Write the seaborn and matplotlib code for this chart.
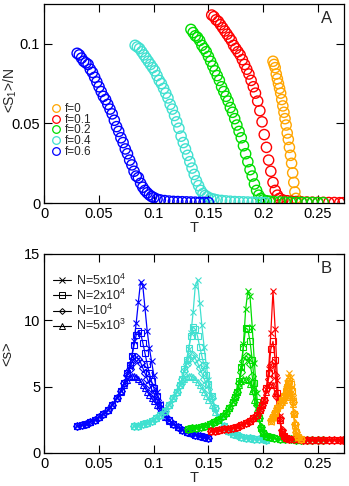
import matplotlib
matplotlib.use("Agg")
import matplotlib.pyplot as plt
from matplotlib.lines import Line2D
import seaborn as sns

# ---- panel A: <S1>/N vs T ----
f_labels = ["f=0", "f=0.1", "f=0.2", "f=0.4", "f=0.6"]
f_colors = ["#ffa500", "#ff0000", "#00dd00", "#40e0d0", "#0000ff"]

tA_f0 = [0.209, 0.210, 0.211, 0.212, 0.213, 0.214, 0.215, 0.216, 0.217, 0.218, 0.219,
         0.220, 0.221, 0.222, 0.223, 0.224, 0.225, 0.226, 0.227, 0.228, 0.229, 0.230]
sA_f0 = [0.089, 0.087, 0.085, 0.081, 0.078, 0.075, 0.072, 0.069, 0.065, 0.061, 0.057,
         0.053, 0.049, 0.044, 0.040, 0.035, 0.030, 0.025, 0.019, 0.013, 0.007, 0.003]

tA_f01 = [0.153, 0.155, 0.157, 0.159, 0.161, 0.163, 0.165, 0.167, 0.169, 0.171, 0.173,
          0.175, 0.177, 0.179, 0.181, 0.183, 0.185, 0.187, 0.189, 0.191, 0.193, 0.195,
          0.197, 0.199, 0.201, 0.203, 0.205, 0.207, 0.209, 0.211, 0.213, 0.215, 0.218,
          0.222, 0.226, 0.230, 0.235, 0.240, 0.245, 0.250, 0.255, 0.260, 0.265, 0.270, 0.273]
sA_f01 = [0.118, 0.117, 0.115, 0.114, 0.112, 0.110, 0.108, 0.106, 0.104, 0.102, 0.099,
          0.097, 0.095, 0.093, 0.090, 0.087, 0.084, 0.081, 0.077, 0.073, 0.069, 0.064,
          0.058, 0.051, 0.043, 0.035, 0.027, 0.020, 0.013, 0.008, 0.005, 0.003, 0.002,
          0.0015, 0.0012, 0.001, 0.0008, 0.0007, 0.0006, 0.0005, 0.0005, 0.0004, 0.0004, 0.0003, 0.0003]

tA_f02 = [0.134, 0.136, 0.138, 0.140, 0.142, 0.144, 0.146, 0.148, 0.150, 0.152, 0.154,
          0.156, 0.158, 0.160, 0.162, 0.164, 0.166, 0.168, 0.170, 0.172, 0.174, 0.176,
          0.178, 0.180, 0.182, 0.184, 0.186, 0.188, 0.190, 0.192, 0.194, 0.196, 0.198,
          0.200, 0.203, 0.206, 0.210, 0.215, 0.220, 0.225, 0.230, 0.235, 0.240, 0.245, 0.250, 0.255]
sA_f02 = [0.109, 0.107, 0.105, 0.104, 0.102, 0.099, 0.097, 0.095, 0.092, 0.089, 0.086,
          0.083, 0.080, 0.077, 0.073, 0.070, 0.067, 0.064, 0.060, 0.057, 0.053, 0.049,
          0.045, 0.041, 0.036, 0.031, 0.026, 0.021, 0.017, 0.012, 0.008, 0.005, 0.003,
          0.002, 0.0015, 0.0012, 0.001, 0.0008, 0.0007, 0.0006, 0.0005, 0.0005, 0.0004, 0.0004, 0.0003, 0.0003]

tA_f04 = [0.083, 0.085, 0.087, 0.089, 0.091, 0.093, 0.095, 0.097, 0.099, 0.101, 0.103,
          0.105, 0.107, 0.109, 0.111, 0.113, 0.115, 0.117, 0.119, 0.121, 0.123, 0.125,
          0.127, 0.129, 0.131, 0.133, 0.135, 0.137, 0.139, 0.141, 0.143, 0.145, 0.147,
          0.149, 0.152, 0.155, 0.158, 0.162, 0.166, 0.170, 0.174, 0.178, 0.182, 0.186,
          0.190, 0.194, 0.198, 0.202]
sA_f04 = [0.099, 0.098, 0.097, 0.095, 0.093, 0.091, 0.089, 0.087, 0.085, 0.083, 0.080,
          0.077, 0.075, 0.072, 0.069, 0.066, 0.062, 0.059, 0.055, 0.051, 0.047, 0.042,
          0.038, 0.034, 0.030, 0.026, 0.022, 0.018, 0.014, 0.011, 0.008, 0.006, 0.0048,
          0.004, 0.003, 0.0025, 0.002, 0.0017, 0.0014, 0.0012, 0.001, 0.0009, 0.0008, 0.0007,
          0.0006, 0.0005, 0.0005, 0.0004]

tA_f06 = [0.030, 0.032, 0.034, 0.036, 0.038, 0.040, 0.042, 0.044, 0.046, 0.048, 0.050,
          0.052, 0.054, 0.056, 0.058, 0.060, 0.062, 0.064, 0.066, 0.068, 0.070, 0.072,
          0.074, 0.076, 0.078, 0.080, 0.082, 0.084, 0.086, 0.088, 0.090, 0.092, 0.094,
          0.096, 0.098, 0.100, 0.103, 0.106, 0.110, 0.114, 0.118, 0.122, 0.126, 0.130,
          0.134, 0.138, 0.142, 0.146, 0.150]
sA_f06 = [0.094, 0.093, 0.091, 0.089, 0.088, 0.087, 0.084, 0.082, 0.079, 0.076, 0.073,
          0.070, 0.067, 0.065, 0.062, 0.059, 0.056, 0.052, 0.048, 0.045, 0.041, 0.038,
          0.034, 0.031, 0.027, 0.024, 0.020, 0.017, 0.016, 0.0125, 0.010, 0.008, 0.0065,
          0.0052, 0.0042, 0.0035, 0.0025, 0.002, 0.0016, 0.0013, 0.0011, 0.001, 0.0009, 0.0008,
          0.0007, 0.0006, 0.0005, 0.0005, 0.0004]

# ---- panel B: <s> vs T for four system sizes ----
n_labels = ["N=5x10$^4$", "N=2x10$^4$", "N=10$^4$", "N=5x10$^3$"]
n_markers = ["x", "s", "D", "^"]

tB_f06 = [0.030, 0.034, 0.038, 0.042, 0.046, 0.050, 0.054, 0.058, 0.062, 0.066, 0.070,
          0.073, 0.076, 0.078, 0.080, 0.082, 0.084, 0.086, 0.088, 0.090, 0.092, 0.094,
          0.096, 0.098, 0.100, 0.103, 0.106, 0.110, 0.114, 0.118, 0.122, 0.126, 0.130,
          0.134, 0.138, 0.142, 0.146, 0.150]
sB_f06 = [
    [2.0, 2.1, 2.2, 2.35, 2.5, 2.7, 2.9, 3.2, 3.6, 4.1, 4.7, 5.3, 6.0, 6.5, 7.3, 8.4, 9.8,
     11.4, 12.9, 12.6, 10.9, 9.2, 7.9, 6.9, 5.9, 4.6, 3.7, 2.9, 2.45, 2.15, 1.95, 1.75, 1.6,
     1.48, 1.38, 1.28, 1.2, 1.13],
    [2.0, 2.1, 2.2, 2.35, 2.5, 2.7, 2.9, 3.2, 3.6, 4.1, 4.7, 5.3, 6.0, 6.6, 7.3, 8.1, 8.9,
     9.2, 9.0, 8.3, 7.5, 6.7, 6.0, 5.4, 4.9, 4.3, 3.6, 2.9, 2.45, 2.15, 1.95, 1.75, 1.6,
     1.48, 1.38, 1.28, 1.2, 1.13],
    [2.0, 2.1, 2.2, 2.35, 2.5, 2.7, 2.9, 3.2, 3.6, 4.1, 4.7, 5.3, 5.9, 6.3, 6.8, 7.1, 7.2,
     7.1, 6.8, 6.4, 6.0, 5.6, 5.2, 4.8, 4.5, 4.0, 3.4, 2.8, 2.45, 2.15, 1.95, 1.75, 1.6,
     1.48, 1.38, 1.28, 1.2, 1.13],
    [2.0, 2.1, 2.2, 2.35, 2.5, 2.7, 2.9, 3.2, 3.6, 4.1, 4.6, 5.1, 5.5, 5.7, 5.8, 5.8, 5.75,
     5.6, 5.4, 5.1, 4.9, 4.6, 4.4, 4.1, 3.9, 3.6, 3.2, 2.7, 2.4, 2.15, 1.95, 1.75, 1.6,
     1.48, 1.38, 1.28, 1.2, 1.13],
]

tB_f04 = [0.082, 0.086, 0.090, 0.094, 0.098, 0.102, 0.106, 0.110, 0.114, 0.118, 0.121,
          0.124, 0.126, 0.128, 0.130, 0.132, 0.134, 0.136, 0.138, 0.140, 0.142, 0.144,
          0.146, 0.148, 0.150, 0.153, 0.156, 0.160, 0.164, 0.168, 0.172, 0.176, 0.180,
          0.184, 0.188, 0.192, 0.196, 0.200, 0.203]
sB_f04 = [
    [2.0, 2.05, 2.15, 2.25, 2.4, 2.6, 2.85, 3.15, 3.6, 4.1, 4.6, 5.1, 5.6, 6.2, 6.8, 7.8,
     9.0, 10.6, 12.6, 13.0, 11.3, 9.6, 8.0, 6.6, 5.5, 4.3, 3.4, 2.6, 2.0, 1.65, 1.45, 1.32,
     1.22, 1.15, 1.1, 1.06, 1.04, 1.02, 1.0],
    [2.0, 2.05, 2.15, 2.25, 2.4, 2.6, 2.85, 3.15, 3.6, 4.1, 4.6, 5.1, 5.6, 6.3, 7.0, 7.9,
     8.8, 9.5, 9.3, 8.8, 8.0, 7.3, 6.6, 5.9, 5.2, 4.3, 3.4, 2.6, 2.0, 1.65, 1.45, 1.32,
     1.22, 1.15, 1.1, 1.06, 1.04, 1.02, 1.0],
    [2.0, 2.05, 2.15, 2.25, 2.4, 2.6, 2.85, 3.15, 3.6, 4.1, 4.6, 5.1, 5.6, 6.2, 6.7, 7.1,
     7.4, 7.35, 7.1, 6.8, 6.4, 6.0, 5.6, 5.2, 4.8, 4.1, 3.4, 2.6, 2.0, 1.65, 1.45, 1.32,
     1.22, 1.15, 1.1, 1.06, 1.04, 1.02, 1.0],
    [2.0, 2.05, 2.15, 2.25, 2.4, 2.6, 2.85, 3.15, 3.6, 4.1, 4.6, 5.1, 5.4, 5.6, 5.75, 5.8,
     5.8, 5.7, 5.55, 5.35, 5.1, 4.85, 4.6, 4.3, 4.0, 3.6, 3.1, 2.5, 2.0, 1.65, 1.45, 1.32,
     1.22, 1.15, 1.1, 1.06, 1.04, 1.02, 1.0],
]

tB_f02 = [0.131, 0.135, 0.139, 0.143, 0.147, 0.151, 0.155, 0.159, 0.163, 0.166, 0.169,
          0.172, 0.174, 0.176, 0.178, 0.180, 0.182, 0.184, 0.186, 0.188, 0.190, 0.192,
          0.194, 0.196, 0.198, 0.200, 0.203, 0.206, 0.210, 0.215, 0.220, 0.225, 0.230,
          0.235, 0.240, 0.245, 0.250, 0.255]
sB_f02 = [
    [1.8, 1.85, 1.9, 1.97, 2.05, 2.15, 2.3, 2.5, 2.75, 3.0, 3.35, 3.8, 4.2, 4.6, 5.3, 6.5,
     8.2, 10.8, 12.2, 11.8, 9.5, 6.8, 4.5, 2.8, 1.9, 1.5, 1.3, 1.18, 1.1, 1.05, 1.03, 1.02,
     1.01, 1.0, 1.0, 1.0, 1.0, 1.0],
    [1.8, 1.85, 1.9, 1.97, 2.05, 2.15, 2.3, 2.5, 2.75, 3.0, 3.35, 3.8, 4.2, 4.6, 5.4, 6.5,
     8.0, 9.4, 9.3, 8.4, 7.0, 5.3, 3.8, 2.6, 1.9, 1.5, 1.3, 1.18, 1.1, 1.05, 1.03, 1.02,
     1.01, 1.0, 1.0, 1.0, 1.0, 1.0],
    [1.8, 1.85, 1.9, 1.97, 2.05, 2.15, 2.3, 2.5, 2.75, 3.0, 3.35, 3.8, 4.2, 4.6, 5.3, 6.1,
     6.9, 7.3, 7.2, 6.7, 5.8, 4.7, 3.6, 2.6, 1.95, 1.55, 1.3, 1.18, 1.1, 1.05, 1.03, 1.02,
     1.01, 1.0, 1.0, 1.0, 1.0, 1.0],
    [1.8, 1.85, 1.9, 1.97, 2.05, 2.15, 2.3, 2.5, 2.75, 3.0, 3.35, 3.8, 4.2, 4.6, 5.1, 5.45,
     5.6, 5.6, 5.5, 5.2, 4.7, 4.0, 3.3, 2.6, 2.0, 1.6, 1.3, 1.18, 1.1, 1.05, 1.03, 1.02,
     1.01, 1.0, 1.0, 1.0, 1.0, 1.0],
]

tB_f01 = [0.152, 0.156, 0.160, 0.164, 0.168, 0.172, 0.176, 0.180, 0.184, 0.188, 0.191,
          0.194, 0.197, 0.199, 0.201, 0.203, 0.205, 0.207, 0.209, 0.211, 0.213, 0.215,
          0.217, 0.219, 0.221, 0.224, 0.228, 0.232, 0.236, 0.240, 0.245, 0.250, 0.255,
          0.260, 0.265, 0.270, 0.273]
sB_f01 = [
    [1.65, 1.68, 1.72, 1.77, 1.83, 1.9, 1.98, 2.08, 2.22, 2.4, 2.6, 2.85, 3.2, 3.6, 4.0,
     4.8, 6.3, 9.0, 12.2, 9.3, 5.5, 2.8, 1.6, 1.25, 1.12, 1.08, 1.04, 1.02, 1.0, 1.0, 1.0,
     1.0, 1.0, 1.0, 1.0, 1.0, 1.0],
    [1.65, 1.68, 1.72, 1.77, 1.83, 1.9, 1.98, 2.08, 2.22, 2.4, 2.6, 2.85, 3.2, 3.6, 4.0,
     4.9, 6.0, 7.8, 8.4, 7.0, 4.5, 2.5, 1.6, 1.25, 1.12, 1.08, 1.04, 1.02, 1.0, 1.0, 1.0,
     1.0, 1.0, 1.0, 1.0, 1.0, 1.0],
    [1.65, 1.68, 1.72, 1.77, 1.83, 1.9, 1.98, 2.08, 2.22, 2.4, 2.6, 2.85, 3.2, 3.6, 4.0,
     4.8, 5.6, 6.6, 6.8, 5.9, 4.2, 2.6, 1.7, 1.3, 1.13, 1.08, 1.04, 1.02, 1.0, 1.0, 1.0,
     1.0, 1.0, 1.0, 1.0, 1.0, 1.0],
    [1.65, 1.68, 1.72, 1.77, 1.83, 1.9, 1.98, 2.08, 2.22, 2.4, 2.6, 2.85, 3.2, 3.6, 4.0,
     4.6, 5.1, 5.2, 5.1, 4.5, 3.6, 2.5, 1.75, 1.35, 1.15, 1.08, 1.04, 1.02, 1.0, 1.0, 1.0,
     1.0, 1.0, 1.0, 1.0, 1.0, 1.0],
]

tB_f0 = [0.207, 0.209, 0.211, 0.213, 0.215, 0.217, 0.219, 0.221, 0.222, 0.223, 0.224,
         0.225, 0.226, 0.227, 0.228, 0.229, 0.230, 0.232, 0.235]
sB_f0 = [
    [2.3, 2.6, 3.0, 3.4, 3.7, 4.0, 4.3, 4.8, 5.3, 5.7, 6.0, 5.7, 5.0, 4.0, 2.9, 2.0, 1.5, 1.15, 1.05],
    [2.4, 2.7, 3.0, 3.4, 3.7, 4.0, 4.3, 4.7, 5.0, 5.3, 5.4, 5.2, 4.7, 3.9, 2.9, 2.1, 1.6, 1.2, 1.05],
    [2.5, 2.8, 3.1, 3.4, 3.7, 3.9, 4.2, 4.5, 4.7, 4.9, 5.0, 4.8, 4.4, 3.8, 3.0, 2.2, 1.6, 1.2, 1.05],
    [2.6, 2.8, 3.1, 3.4, 3.6, 3.8, 4.0, 4.2, 4.4, 4.5, 4.6, 4.5, 4.2, 3.7, 3.0, 2.3, 1.7, 1.25, 1.05],
]

sns.set_style("ticks")
plt.rcParams["font.family"] = ["Liberation Sans", "DejaVu Sans"]
plt.rcParams["mathtext.fontset"] = "custom"
plt.rcParams["mathtext.rm"] = "Liberation Sans"

fig = plt.figure(figsize=(3.49, 4.86), dpi=100)
axA = fig.add_axes([0.127, 0.582, 0.859, 0.410])
axB = fig.add_axes([0.127, 0.068, 0.859, 0.410])

# panel A, drawn so that the low-f tails end up underneath
A_sets = [(tA_f0, sA_f0), (tA_f01, sA_f01), (tA_f02, sA_f02), (tA_f04, sA_f04), (tA_f06, sA_f06)]
for (t, s), col in zip(A_sets, f_colors):
    sns.scatterplot(x=t, y=s, ax=axA, marker="o", s=54, facecolors="none",
                    edgecolor=col, linewidth=1.0)

# panel B
B_sets = [(tB_f06, sB_f06, f_colors[4]), (tB_f04, sB_f04, f_colors[3]),
          (tB_f02, sB_f02, f_colors[2]), (tB_f01, sB_f01, f_colors[1]),
          (tB_f0, sB_f0, f_colors[0])]
for t, curves, col in B_sets:
    for ys, mk in zip(curves, n_markers):
        ms = 4.5 if mk != "D" else 3.6
        sns.lineplot(x=t, y=ys, ax=axB, sort=False, estimator=None, color=col,
                     linewidth=0.9, marker=mk, markersize=ms,
                     markerfacecolor="none", markeredgecolor=col, markeredgewidth=0.8)

for ax in (axA, axB):
    ax.set_xlim(0, 0.274)
    ax.set_xticks([0, 0.05, 0.1, 0.15, 0.2, 0.25])
    ax.set_xticklabels(["0", "0.05", "0.1", "0.15", "0.2", "0.25"])
    ax.tick_params(direction="in", top=True, right=True, length=6, width=0.8,
                   labelsize=10.5, pad=3, colors="black")
    for sp in ax.spines.values():
        sp.set_linewidth(0.9)
        sp.set_color("black")
    ax.set_xlabel("T", fontsize=10.5, labelpad=0)

axA.set_ylim(0, 0.125)
axA.set_yticks([0, 0.05, 0.1])
axA.set_yticklabels(["0", "0.05", "0.1"])
axA.set_ylabel("<S$_1$>/N", fontsize=10)
axA.yaxis.set_label_coords(-0.085, 0.565)
axA.text(0.94, 0.925, "A", transform=axA.transAxes, fontsize=12, ha="center", va="center")

axB.set_ylim(0, 15)
axB.set_yticks([0, 5, 10, 15])
axB.set_ylabel("<s>", fontsize=10.5)
axB.yaxis.set_label_coords(-0.1, 0.5)
axB.text(0.94, 0.925, "B", transform=axB.transAxes, fontsize=12, ha="center", va="center")

handlesA = [Line2D([], [], linestyle="none", marker="o", markersize=5.5,
                   markerfacecolor="none", markeredgecolor=c, markeredgewidth=0.9)
            for c in f_colors]
axA.legend(handlesA, f_labels, loc="upper left", bbox_to_anchor=(0.0, 0.545),
           frameon=False, fontsize=8.5, handlelength=0.6, handletextpad=0.4,
           labelspacing=-0.1, borderaxespad=0.3)

handlesB = [Line2D([], [], color="black", linewidth=0.8, marker=m,
                   markersize=(3.0 if m == "D" else 3.8), markerfacecolor="none",
                   markeredgecolor="black", markeredgewidth=0.7)
            for m in n_markers]
axB.legend(handlesB, n_labels, loc="upper left", frameon=False, fontsize=9,
           handlelength=1.4, handletextpad=0.4, labelspacing=0.0,
           borderaxespad=0.3, bbox_to_anchor=(0.0, 0.95))

fig.savefig("out.png", dpi=100)
